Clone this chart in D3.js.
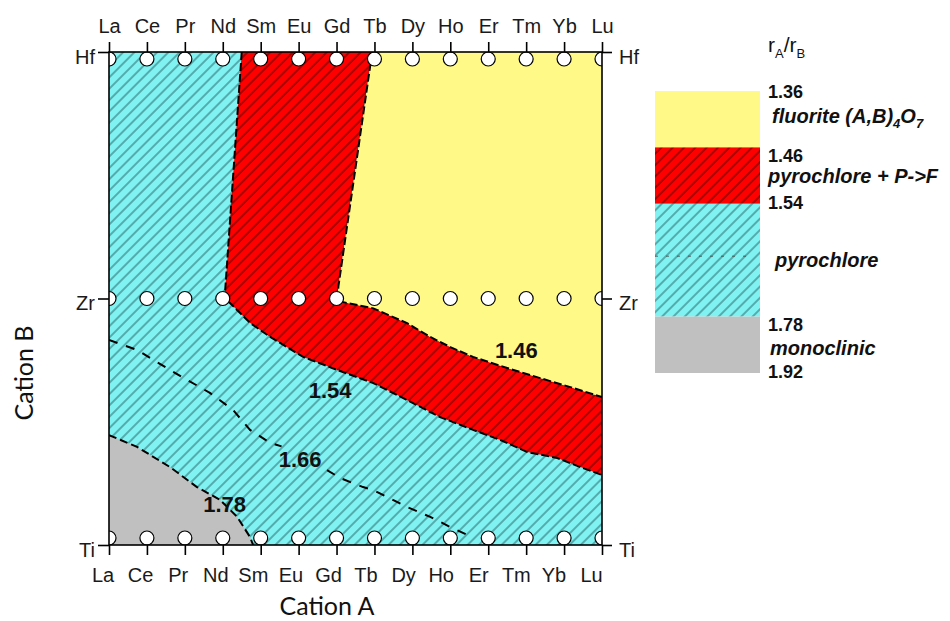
<!DOCTYPE html>
<html><head><meta charset="utf-8">
<script src="https://cdn.jsdelivr.net/npm/d3@7"></script>
<style>body{margin:0;background:#fff}svg{display:block}</style>
</head><body>
<svg id="chart" width="950" height="621"></svg>
<script>
// ---------------- data ----------------
const cationsA = ["La","Ce","Pr","Nd","Sm","Eu","Gd","Tb","Dy","Ho","Er","Tm","Yb","Lu"];
const cationsB = ["Hf","Zr","Ti"];
// phase boundaries as [cation A index, cation B index]
const boundary146 = [[6.94,0],[6.05,0.95],[6.02,1.01],[6.97,1.04],[7.86,1.10],[8.47,1.156],[9.0,1.197],[9.6,1.237],[10.5,1.282],[11.37,1.323],[12.24,1.363],[13,1.40]];
const boundary154 = [[3.50,0],[3.06,0.975],[3.01,1.0],[3.19,1.018],[3.72,1.099],[4.25,1.156],[5.12,1.237],[6.02,1.290],[6.97,1.343],[7.86,1.412],[8.73,1.481],[9.60,1.533],[10.32,1.574],[11.03,1.623],[11.82,1.647],[12.43,1.684],[13,1.716]];
const boundary166a = [[0,1.168],[0.74,1.209],[1.61,1.290],[2.66,1.383],[3.27,1.452],[3.72,1.533],[4.25,1.586],[4.55,1.60]];
const boundary166b = [[5.75,1.696],[6.09,1.728],[6.70,1.765],[6.97,1.777],[7.86,1.846],[8.47,1.886],[9.0,1.927],[9.45,1.959],[9.6,1.97]];
const boundary178 = [[0,1.554],[0.74,1.602],[1.61,1.684],[2.32,1.765],[2.93,1.817],[3.38,1.886],[3.72,1.968],[3.80,2.0]];
const contourLabels = ["1.46","1.54","1.66","1.78"];
const contourLabelA = [10.74,5.83,5.04,3.05];
const contourLabelB = [1.241,1.404,1.684,1.866];
// legend
const legendValues = ["1.36","1.46","1.54","1.78","1.92"];
const legendStops = [0,1,2,4,5];
const legendPhases = ["fluorite","pyrochlore + P->F","pyrochlore","monoclinic"];
const legendFills = ["yellow","redHatch","cyanHatch","gray"];

// ---------------- layout ----------------
const svg = d3.select("#chart");
const x = d3.scaleLinear().domain([0,13]).range([109,602]);
const y = d3.scaleLinear().domain([0,2]).range([52,545]);
const xLab = d3.scaleLinear().domain([0,13]).range([102.5,591]);
const colors = {cyan:"#80f2f2", red:"#ff0000", yellow:"#fff987", gray:"#c0c0c0"};
const sans = "Liberation Sans, Arial, sans-serif";

const defs = svg.append("defs");
function hatch(id, bg, lc){
  const s = 8;
  const p = defs.append("pattern").attr("id",id).attr("patternUnits","userSpaceOnUse")
    .attr("width",s).attr("height",s).attr("patternTransform","rotate(45)");
  p.append("rect").attr("width",s).attr("height",s).attr("fill",bg);
  p.append("line").attr("x1",s/2).attr("x2",s/2).attr("y1",0).attr("y2",s)
    .attr("stroke",lc).attr("stroke-width",0.9);
}
hatch("cyanHatch", colors.cyan, "#1f5556");
hatch("redHatch", colors.red, "#3a0000");
defs.append("clipPath").attr("id","plotClip").append("rect")
  .attr("x",x(0)).attr("y",y(0)).attr("width",x(13)-x(0)).attr("height",y(2)-y(0));

const line = d3.line().x(d=>x(d[0])).y(d=>y(d[1]));
const plot = svg.append("g").attr("clip-path","url(#plotClip)");

// regions
plot.append("rect").attr("x",x(0)).attr("y",y(0)).attr("width",x(13)-x(0)).attr("height",y(2)-y(0))
  .attr("fill","url(#cyanHatch)");
plot.append("path").attr("d",line([...boundary178,[0,2]])+"Z").attr("fill",colors.gray);
plot.append("path").attr("d",line([...boundary154,...boundary146.slice().reverse()])+"Z").attr("fill","url(#redHatch)");
plot.append("path").attr("d",line([...boundary146,[13,0]])+"Z").attr("fill",colors.yellow);

// boundaries
[[boundary146,"8,3"],[boundary154,"8,3"],[boundary178,"8,4"],[boundary166a,"9,9"],[boundary166b,"9,9"]].forEach(([b,dash])=>{
  plot.append("path").attr("d",line(b)).attr("fill","none").attr("stroke","#000")
    .attr("stroke-width",2).attr("stroke-dasharray",dash);
});

// composition points
const r = 7;
const pts = [];
cationsB.forEach((b,j)=>cationsA.forEach((a,i)=>pts.push([i,j])));
plot.selectAll("circle.pt").data(pts).join("circle").attr("class","pt")
  .attr("cx",d=>x(d[0]))
  .attr("cy",d=>y(d[1]) + (d[1]===0 ? r : d[1]===2 ? -r : 0))
  .attr("r",r).attr("fill","#fff").attr("stroke","#000").attr("stroke-width",1.2);

// contour labels
svg.selectAll("text.cl").data(contourLabels).join("text").attr("class","cl")
  .attr("x",(d,i)=>x(contourLabelA[i])).attr("y",(d,i)=>y(contourLabelB[i]))
  .attr("text-anchor","middle").attr("font-family",sans)
  .attr("font-weight","bold").attr("font-size",22).attr("fill","#111").text(d=>d);

// frame
svg.append("rect").attr("x",x(0)).attr("y",y(0)).attr("width",x(13)-x(0)).attr("height",y(2)-y(0))
  .attr("fill","none").attr("stroke","#000").attr("stroke-width",1.6);

// axes
const tickFont = g => g.selectAll("text").attr("font-family",sans)
  .attr("font-size",20).attr("fill","#1a1a1a");
const tickLine = g => { g.select(".domain").remove(); g.selectAll("line").attr("stroke","#000").attr("stroke-width",1.6); };
const idx = d3.range(cationsA.length);
svg.append("g").attr("transform",`translate(0,${y(0)})`)
  .call(d3.axisTop(x).tickValues(idx).tickFormat(i=>cationsA[i]).tickSize(10).tickPadding(9))
  .call(tickLine).call(tickFont);
const bot = svg.append("g").attr("transform",`translate(0,${y(2)})`)
  .call(d3.axisBottom(x).tickValues(idx).tickFormat(i=>cationsA[i]).tickSize(10).tickPadding(13))
  .call(tickLine).call(tickFont);
bot.selectAll(".tick text").attr("x",i=>xLab(i)-x(i));
svg.append("g").attr("transform",`translate(${x(0)},0)`)
  .call(d3.axisLeft(y).tickValues([0,1,2]).tickFormat(j=>cationsB[j]).tickSize(11).tickPadding(3))
  .call(tickLine).call(tickFont).selectAll("text").attr("dy","0.55em");
svg.append("g").attr("transform",`translate(${x(13)},0)`)
  .call(d3.axisRight(y).tickValues([0,1,2]).tickFormat(j=>cationsB[j]).tickSize(10).tickPadding(7))
  .call(tickLine).call(tickFont).selectAll("text").attr("dy","0.55em");

// axis titles
svg.append("text").attr("x",327).attr("y",615).attr("text-anchor","middle")
  .attr("font-family","Lato, Open Sans, sans-serif").attr("font-size",25).attr("fill","#111").text("Cation A");
svg.append("text").attr("transform","translate(33,373) rotate(-90)").attr("text-anchor","middle")
  .attr("font-family","Lato, Open Sans, sans-serif").attr("font-size",25).attr("fill","#111").text("Cation B");

// legend
const ly = d3.scaleLinear().domain([0,5]).range([91,373]);
const lg = svg.append("g");
const fillFor = {yellow:colors.yellow, gray:colors.gray, redHatch:"url(#redHatch)", cyanHatch:"url(#cyanHatch)"};
legendPhases.forEach((p,i)=>{
  lg.append("rect").attr("x",655).attr("y",ly(legendStops[i])).attr("width",105)
    .attr("height",ly(legendStops[i+1])-ly(legendStops[i])).attr("fill",fillFor[legendFills[i]]);
});
lg.append("line").attr("x1",655).attr("x2",752).attr("y1",ly(3)-4).attr("y2",ly(3)-4)
  .attr("stroke","#444").attr("stroke-width",0.8).attr("stroke-dasharray","3,8");
const valueBaselines = [98,162,209,331,378];
legendValues.forEach((v,i)=>{
  lg.append("text").attr("x",768).attr("y",valueBaselines[i]).attr("font-family",sans)
    .attr("font-weight","bold").attr("font-size",18).attr("fill","#111").text(v);
});
const phaseX = [772,768,775,770], phaseY = [123,183,267,355];
legendPhases.forEach((p,i)=>{
  const t = lg.append("text").attr("x",phaseX[i]).attr("y",phaseY[i]).attr("font-family",sans)
    .attr("font-weight","bold").attr("font-style","italic").attr("font-size",20).attr("fill","#111");
  if(i===0){
    t.append("tspan").text("fluorite (A,B)");
    t.append("tspan").attr("font-size",13).attr("dy",5).text("4");
    t.append("tspan").attr("dy",-5).text("O");
    t.append("tspan").attr("font-size",13).attr("dy",5).text("7");
  } else t.text(p);
});
const rt = lg.append("text").attr("x",768).attr("y",52).attr("font-family",sans)
  .attr("font-size",21).attr("fill","#111");
rt.append("tspan").text("r");
rt.append("tspan").attr("font-size",13).attr("dy",6).text("A");
rt.append("tspan").attr("dy",-6).text("/r");
rt.append("tspan").attr("font-size",13).attr("dy",6).text("B");
</script>
</body></html>
